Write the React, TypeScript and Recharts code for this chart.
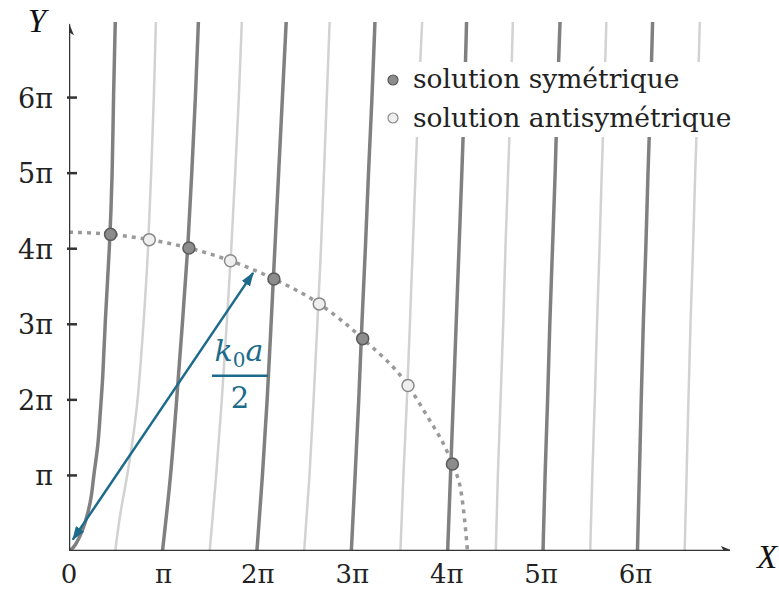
import React from 'react';
import { ComposedChart, Line, Scatter, XAxis, YAxis, ReferenceDot } from 'recharts';

// All values in units of π
const curveYLevels = [0, 1, 2, 3, 4, 5, 6, 7];

// Symmetric branch (dark curves)
const sym1: [number, number][] = [
  [0, 0], [0.06, 0.05], [0.15, 0.28], [0.2, 0.5], [0.24, 0.72], [0.26, 1], [0.31, 1.4],
  [0.33, 1.83], [0.36, 2.3], [0.38, 3], [0.43, 4], [0.46, 5], [0.47, 6], [0.49, 7],
];
const sym2 = [0.99, 1.08, 1.14, 1.2, 1.26, 1.3, 1.34, 1.37];
const sym3 = [1.99, 2.05, 2.1, 2.14, 2.18, 2.22, 2.26, 2.3];
const sym4 = [2.99, 3.03, 3.07, 3.1, 3.14, 3.17, 3.21, 3.24];
const sym5 = [4.01, 4.04, 4.07, 4.1, 4.13, 4.16, 4.19, 4.21];
const sym6 = [5.02, 5.04, 5.07, 5.09, 5.12, 5.15, 5.17, 5.2];
const sym7 = [6.02, 6.04, 6.06, 6.08, 6.11, 6.13, 6.16, 6.18];

// Antisymmetric branch (light curves)
const anti1: [number, number][] = [
  [0.49, 0], [0.54, 0.5], [0.62, 1], [0.69, 1.6], [0.73, 2], [0.79, 3], [0.84, 4],
  [0.87, 5], [0.9, 6], [0.92, 7],
];
const anti2 = [1.49, 1.56, 1.62, 1.67, 1.72, 1.76, 1.8, 1.83];
const anti3 = [2.49, 2.55, 2.59, 2.63, 2.67, 2.7, 2.73, 2.76];
const anti4 = [3.51, 3.54, 3.58, 3.61, 3.64, 3.67, 3.7, 3.74];
const anti5 = [4.52, 4.54, 4.57, 4.6, 4.62, 4.65, 4.68, 4.7];
const anti6 = [5.52, 5.54, 5.57, 5.59, 5.62, 5.64, 5.67, 5.69];
const anti7 = [6.52, 6.54, 6.56, 6.58, 6.61, 6.63, 6.66, 6.68];

// Dashed circle of radius k0a/2
const circleX = [0, 0.44, 0.85, 1.27, 1.71, 2.17, 2.65, 3.11, 3.59, 3.8, 3.98, 4.06, 4.16, 4.2, 4.22];
const circleY = [4.22, 4.19, 4.12, 4.01, 3.84, 3.6, 3.27, 2.81, 2.19, 1.77, 1.38, 1.15, 0.72, 0.28, 0];

// Solutions
const symSolX = [0.44, 1.27, 2.17, 3.11, 4.06];
const symSolY = [4.19, 4.01, 3.6, 2.81, 1.15];
const antiSolX = [0.85, 1.71, 2.65, 3.59];
const antiSolY = [4.12, 3.84, 3.27, 2.19];

// Arrow k0a/2
const arrowX = [0.04, 1.95];
const arrowY = [0.15, 3.68];

const xTicks = [0, 1, 2, 3, 4, 5, 6];
const xTickLabels = ['0', 'π', '2π', '3π', '4π', '5π', '6π'];
const yTicks = [1, 2, 3, 4, 5, 6];
const yTickLabels = ['', 'π', '2π', '3π', '4π', '5π', '6π'];
const axisMax = 7;

const legendLabels = ['solution symétrique', 'solution antisymétrique'];

const fromLevels = (xs: number[]) => xs.map((x, i) => ({ x, y: curveYLevels[i] }));
const fromPairs = (ps: [number, number][]) => ps.map(([x, y]) => ({ x, y }));
const zipXY = (xs: number[], ys: number[]) => xs.map((x, i) => ({ x, y: ys[i] }));

const symCurves = [fromPairs(sym1), ...[sym2, sym3, sym4, sym5, sym6, sym7].map(fromLevels)];
const antiCurves = [fromPairs(anti1), ...[anti2, anti3, anti4, anti5, anti6, anti7].map(fromLevels)];

const FONT = '"DejaVu Serif", serif';
const TEAL = '#1d6b8b';
const DARK = '#808080';
const LIGHT = '#d2d2d2';

const XTick = (props: any) => {
  const { x, y, payload } = props;
  return (
    <text x={x} y={y + 32} textAnchor="middle" fontFamily={FONT} fontSize={26} fill="#222">
      {xTickLabels[payload.value]}
    </text>
  );
};

const YTick = (props: any) => {
  const { x, y, payload } = props;
  return (
    <g>
      <line x1={x - 2} x2={x + 8} y1={y} y2={y} stroke="#333" strokeWidth={2.5} />
      <text x={x - 16} y={y + 10} textAnchor="end" fontFamily={FONT} fontSize={27} fill="#222">
        {yTickLabels[payload.value]}
      </text>
    </g>
  );
};

const FractionLabel = (props: any) => {
  const vb = props.viewBox || {};
  const cx = vb.x + (vb.width || 0) / 2;
  const cy = vb.y + (vb.height || 0) / 2;
  return (
    <g>
      <text x={cx - 1} y={cy - 15} textAnchor="middle" fontFamily={FONT} fontStyle="italic" fontSize={30} fill={TEAL}>
        k<tspan fontStyle="normal" fontSize={20} dy={6}>0</tspan><tspan dy={-6}>a</tspan>
      </text>
      <line x1={cx - 28} x2={cx + 28} y1={cy} y2={cy} stroke={TEAL} strokeWidth={2.5} />
      <text x={cx} y={cy + 32} textAnchor="middle" fontFamily={FONT} fontSize={29} fill={TEAL}>
        2
      </text>
    </g>
  );
};

const SymDot = (p: any) => <circle cx={p.cx} cy={p.cy} r={6} fill="#8c8c8c" stroke="#5a5a5a" strokeWidth={1.5} />;
const AntiDot = (p: any) => <circle cx={p.cx} cy={p.cy} r={6} fill="#efefef" stroke="#8a8a8a" strokeWidth={1.5} />;

export default function App() {
  return (
    <div style={{ position: 'absolute', left: 0, top: 0, width: 779, height: 591, background: '#fff' }}>
      <ComposedChart width={779} height={591} margin={{ top: 22, right: 49, left: 0, bottom: 0 }}>
        <defs>
          <marker id="axisArrow" viewBox="0 0 12 10" refX="11" refY="5" markerWidth="12" markerHeight="10" markerUnits="userSpaceOnUse" orient="auto">
            <path d="M0,0 L12,5 L0,10 L3,5 z" fill="#333" />
          </marker>
          <marker id="tealArrow" viewBox="0 0 14 10" refX="13" refY="5" markerWidth="14" markerHeight="10" markerUnits="userSpaceOnUse" orient="auto-start-reverse">
            <path d="M0,0 L14,5 L0,10 z" fill={TEAL} />
          </marker>
        </defs>
        <XAxis
          type="number"
          dataKey="x"
          domain={[0, axisMax]}
          ticks={xTicks}
          allowDataOverflow
          axisLine={false}
          tickLine={false}
          tickSize={0}
          tickMargin={0}
          height={40}
          tick={<XTick />}
          interval={0}
        />
        <YAxis
          type="number"
          dataKey="y"
          domain={[0, axisMax]}
          ticks={yTicks}
          allowDataOverflow
          axisLine={false}
          tickLine={false}
          tickSize={0}
          tickMargin={0}
          width={69}
          tick={<YTick />}
          interval={0}
        />
        {antiCurves.map((c, i) => (
          <Line key={'a' + i} data={c} dataKey="y" type="basis" stroke={LIGHT} strokeWidth={2.5} dot={false} activeDot={false} isAnimationActive={false} />
        ))}
        {symCurves.map((c, i) => (
          <Line key={'s' + i} data={c} dataKey="y" type="basis" stroke={DARK} strokeWidth={3.5} dot={false} activeDot={false} isAnimationActive={false} />
        ))}
        <Line data={zipXY(circleX, circleY)} dataKey="y" type="monotoneX" stroke="#9a9a9a" strokeWidth={3.5} strokeDasharray="4 5" dot={false} activeDot={false} isAnimationActive={false} />
        <Line data={[{ x: 0, y: 0 }, { x: axisMax + 0.02, y: 0 }]} dataKey="y" type="linear" stroke="#333" strokeWidth={2.5} dot={false} activeDot={false} markerEnd="url(#axisArrow)" isAnimationActive={false} />
        <Line data={[{ x: 0, y: 0 }, { x: 0, y: axisMax - 0.03 }]} dataKey="y" type="linear" stroke="#333" strokeWidth={2.5} dot={false} activeDot={false} markerEnd="url(#axisArrow)" isAnimationActive={false} />
        <Line data={zipXY(arrowX, arrowY)} dataKey="y" type="linear" stroke={TEAL} strokeWidth={2.5} dot={false} activeDot={false} markerStart="url(#tealArrow)" markerEnd="url(#tealArrow)" isAnimationActive={false} />
        <Scatter data={zipXY(symSolX, symSolY)} shape={<SymDot />} isAnimationActive={false} />
        <Scatter data={zipXY(antiSolX, antiSolY)} shape={<AntiDot />} isAnimationActive={false} />
        <ReferenceDot x={1.81} y={2.32} r={0} fill="none" stroke="none" label={<FractionLabel />} />
      </ComposedChart>
      <svg width={779} height={591} style={{ position: 'absolute', left: 0, top: 0, pointerEvents: 'none' }}>
        <rect x={383} y={62} width={396} height={75} fill="#fff" />
        <circle cx={393} cy={80} r={5} fill="#8c8c8c" stroke="#5a5a5a" strokeWidth={1.2} />
        <circle cx={393} cy={118} r={5} fill="#efefef" stroke="#8a8a8a" strokeWidth={1.2} />
        <text x={413} y={88} fontFamily={FONT} fontSize={26.5} fill="#222">{legendLabels[0]}</text>
        <text x={413} y={127} fontFamily={FONT} fontSize={26.5} fill="#222">{legendLabels[1]}</text>
        <text x={37} y={32} textAnchor="middle" fontFamily='"Liberation Serif", serif' fontStyle="italic" fontSize={33} fill="#111">Y</text>
        <text x={767} y={568} textAnchor="middle" fontFamily='"Liberation Serif", serif' fontStyle="italic" fontSize={33} fill="#111">X</text>
      </svg>
    </div>
  );
}
